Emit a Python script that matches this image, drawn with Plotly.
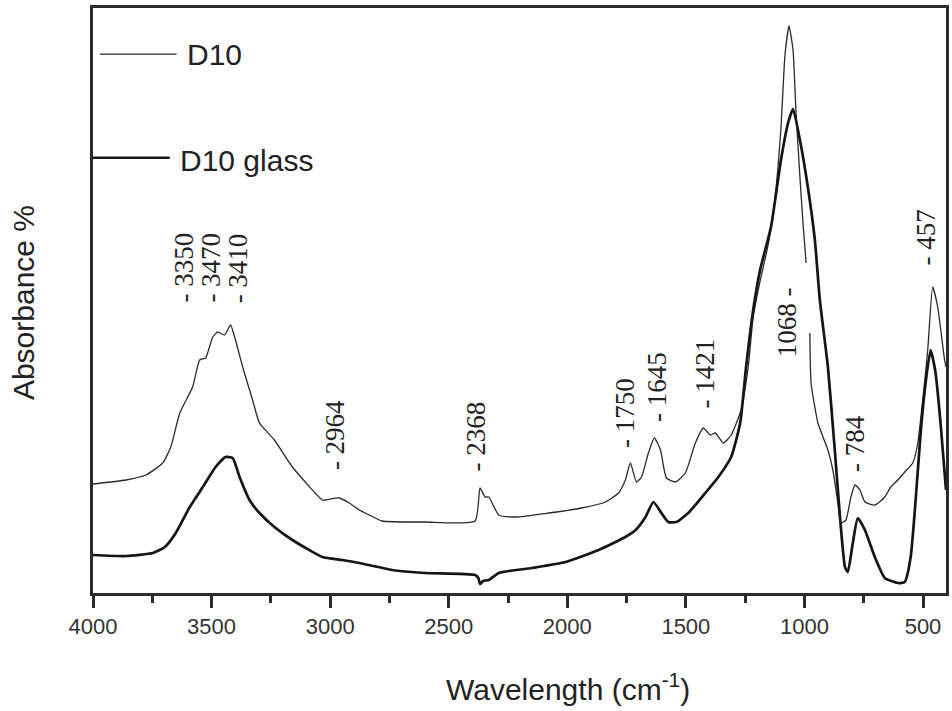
import plotly.graph_objects as go

# FTIR spectra, wavenumber (cm-1) vs absorbance (arbitrary units, curves offset)
d10_wn = [4000, 3861, 3777, 3706, 3672, 3634, 3580, 3550, 3525, 3495, 3474, 3445, 3420,
          3399, 3369, 3327, 3298, 3235, 3159, 3033, 3020, 2961, 2919, 2877, 2835, 2781,
          2600, 2389, 2368, 2347, 2331, 2289, 2217, 2078, 1940, 1839, 1784, 1755, 1734,
          1708, 1687, 1658, 1633, 1607, 1582, 1544, 1502, 1460, 1426, 1397, 1376, 1342,
          1309, 1267, 1237, 1216, 1187, 1153, 1124, 1099, 1082, 1065, 1048, 1036, 1019,
          1006, 993, 985, 977, 972, 943, 901, 880, 859, 846, 825, 804, 787, 766, 745, 703,
          661, 636, 606, 577, 543, 522, 501, 480, 459, 438, 409, 403]
d10_abs = [10.9, 11.3, 11.8, 13.0, 14.6, 18.0, 20.6, 23.3, 23.5, 25.6, 26.1, 25.8, 26.8,
           25.3, 22.6, 19.3, 17.0, 15.3, 12.6, 9.3, 9.3, 9.5, 9.0, 8.3, 7.8, 7.2,
           7.1, 7.2, 10.5, 9.6, 9.6, 7.8, 7.6, 8.0, 8.5, 9.1, 10.0, 11.3, 13.0,
           11.1, 11.6, 14.0, 15.5, 14.3, 11.5, 11.1, 12.0, 15.0, 16.5, 15.8, 16.0, 15.0,
           15.8, 18.3, 22.6, 27.6, 31.2, 34.8, 39.5, 46.5, 53.8, 56.7, 54.3, 48.3, 41.6,
           37.0, 33.0, None, 26.0, 21.0, 17.0, 14.3, 12.3, 9.0, 7.0, 7.3, 9.6, 10.8, 10.3, 9.1, 8.8,
           9.6, 10.6, 11.3, 12.1, 13.0, 15.0, 19.3, 24.3, 30.6, 28.6, 23.3, 22.6]

glass_wn = [4000, 3861, 3748, 3697, 3651, 3592, 3537, 3483, 3441, 3411, 3382, 3340, 3298,
            3235, 3159, 3033, 2949, 2877, 2739, 2600, 2389, 2375, 2368, 2355, 2331, 2289,
            2150, 2007, 1868, 1755, 1712, 1670, 1637, 1603, 1574, 1540, 1490, 1418, 1363,
            1309, 1271, 1246, 1216, 1187, 1141, 1099, 1069, 1048, 1019, 985, 956, 935, 901,
            872, 850, 829, 817, 796, 775, 745, 703, 661, 606, 577, 552, 531, 510, 489, 468,
            447, 426, 403]
glass_abs = [3.8, 3.7, 4.0, 4.6, 6.0, 8.6, 10.6, 12.6, 13.6, 13.5, 11.6, 9.3, 8.0,
             6.6, 5.3, 3.6, 3.3, 3.0, 2.3, 2.0, 1.8, 1.5, 0.9, 1.2, 1.3, 2.0,
             2.5, 3.1, 4.3, 5.6, 6.3, 7.6, 9.1, 8.0, 7.1, 7.1, 8.0, 10.0, 11.6,
             13.6, 17.0, 22.6, 28.3, 32.3, 36.6, 43.3, 47.0, 48.4, 45.3, 40.5, 35.3, 29.3, 22.6,
             14.3, 7.6, 2.6, 2.1, 5.0, 7.5, 6.3, 3.6, 1.5, 1.0, 1.1, 3.6, 9.3, 16.0, 21.0, 24.3,
             22.0, 17.0, 10.3]

# Band assignments written beside the peaks
peak_text = ["- 3350", "- 3470", "- 3410", "- 2964", "- 2368", "- 1750", "- 1645",
             "- 1421", "1068 -", "- 784", "- 457"]
peak_label_x = [3618, 3504, 3387, 2979, 2383, 1757, 1622, 1421, 1072, 787, 489]
peak_label_y = [32.5, 32.5, 32.5, 15.8, 15.7, 18.0, 20.6, 21.9, 27.1, 15.0, 35.5]

x_ticks = [4000, 3500, 3000, 2500, 2000, 1500, 1000, 500]

INK = "#222222"
SANS = "Liberation Sans"
SERIF = "Liberation Serif"

fig = go.Figure()
fig.add_trace(go.Scatter(x=d10_wn, y=d10_abs, mode="lines", name="D10",
                         line=dict(color="#2a2a2a", width=1.3, shape="spline", smoothing=0.5),
                         connectgaps=False, showlegend=False))
fig.add_trace(go.Scatter(x=glass_wn, y=glass_abs, mode="lines", name="D10 glass",
                         line=dict(color="#151515", width=2.7, shape="spline", smoothing=0.5),
                         showlegend=False))

annotations = []
for t, x, y in zip(peak_text, peak_label_x, peak_label_y):
    annotations.append(dict(x=x, y=y, xref="x", yref="y", text=t, textangle=-90,
                            showarrow=False, font=dict(family=SERIF, size=27, color=INK)))

# hand-drawn legend inside the frame
fig.add_shape(type="line", xref="paper", yref="paper", x0=0.008, x1=0.098, y0=0.921, y1=0.921,
              line=dict(color="#2a2a2a", width=1.3))
fig.add_shape(type="line", xref="paper", yref="paper", x0=0.0, x1=0.09, y0=0.744, y1=0.744,
              line=dict(color="#151515", width=2.7))
annotations.append(dict(x=0.108, y=0.921, xref="paper", yref="paper", text="D10",
                        xanchor="left", yanchor="middle", showarrow=False,
                        font=dict(family=SANS, size=30, color=INK)))
annotations.append(dict(x=0.100, y=0.740, xref="paper", yref="paper", text="D10 glass",
                        xanchor="left", yanchor="middle", showarrow=False,
                        font=dict(family=SANS, size=30, color=INK)))

# axis titles
annotations.append(dict(x=0.557, y=-0.161, xref="paper", yref="paper",
                        text="Wavelength (cm<sup>-1</sup>)", showarrow=False,
                        xanchor="center", yanchor="middle",
                        font=dict(family=SANS, size=30, color=INK)))
annotations.append(dict(x=-0.0806, y=0.496, xref="paper", yref="paper",
                        text="Absorbance %", textangle=-90, showarrow=False,
                        xanchor="center", yanchor="middle",
                        font=dict(family=SANS, size=30, color=INK)))

fig.update_layout(
    width=952, height=711,
    margin=dict(l=93, r=3, t=8, b=118),
    paper_bgcolor="white", plot_bgcolor="white",
    annotations=annotations,
    xaxis=dict(range=[4000, 403], tickvals=x_ticks, ticktext=[str(v) for v in x_ticks],
               ticks="outside", ticklen=12, tickwidth=2.5, tickcolor="#2b2b2b",
               minor=dict(dtick=250, tick0=0, ticks="outside", ticklen=7, tickwidth=2.5,
                          tickcolor="#2b2b2b", showgrid=False),
               showline=True, linewidth=2.5, linecolor="#2b2b2b", mirror=True,
               showgrid=False, zeroline=False,
               tickfont=dict(family=SANS, size=22, color="#333333")),
    yaxis=dict(range=[0, 58.5], showticklabels=False, ticks="",
               showline=True, linewidth=2.5, linecolor="#2b2b2b", mirror=True,
               showgrid=False, zeroline=False),
)

fig.write_html("out.html")
